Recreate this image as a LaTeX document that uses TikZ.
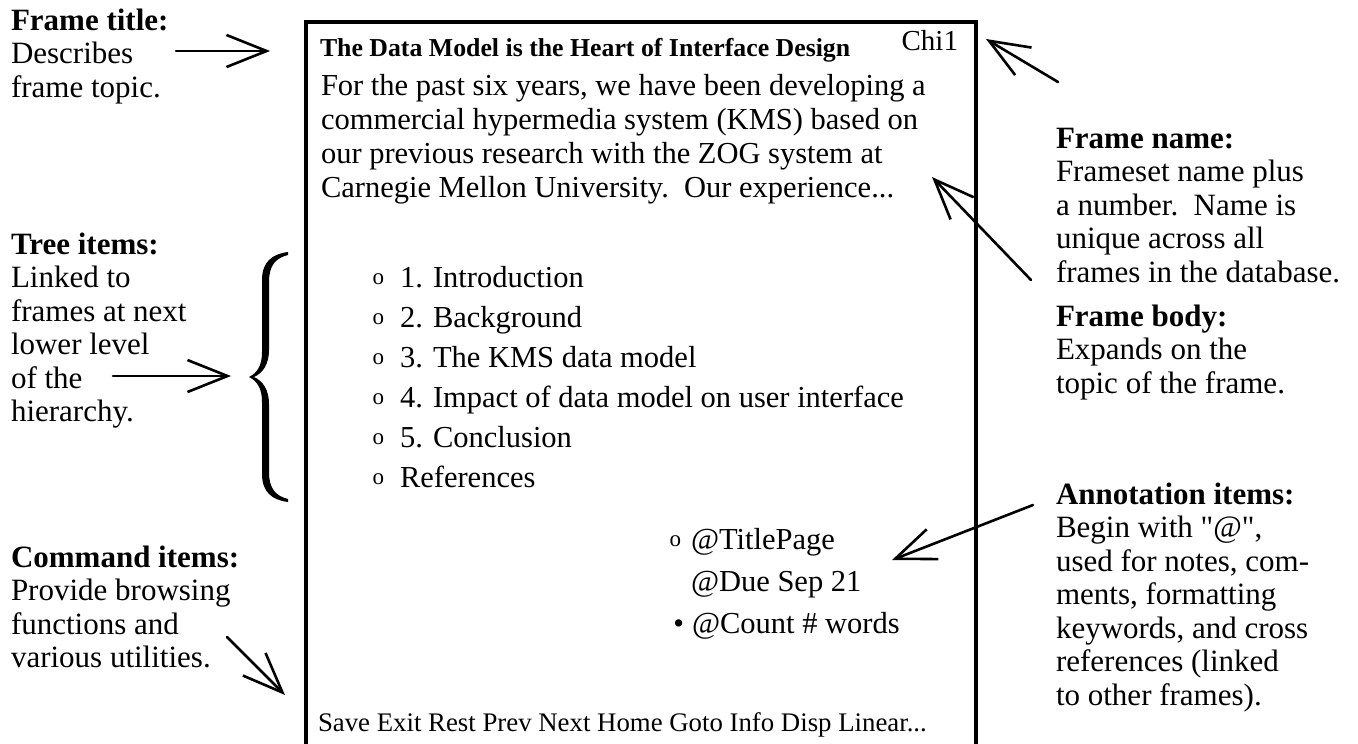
\documentclass[tikz,border=0pt]{standalone}
\usepackage{fontspec}
\setmainfont{Liberation Serif}
\newfontfamily\rawfont{Liberation Serif}[Ligatures=TeXOff]
\usetikzlibrary{arrows.meta}

% type sizes (1pt = 1 pixel of the finished picture)
\newcommand{\sidesz}{\fontsize{31}{33.5}\selectfont}
\newcommand{\bodysz}{\fontsize{30.5}{34}\selectfont}
\newcommand{\cmdsz}{\fontsize{26.8}{30}\selectfont}
\newcommand{\headsz}{\fontsize{25.8}{30}\selectfont\bfseries}
\newcommand{\namesz}{\fontsize{29}{30}\selectfont}
% stacked lines whose baseline is the first line
\newcommand{\lines}[1]{\begin{tabular}[t]{@{}l@{}}#1\end{tabular}}
% small hollow bullet used in front of linked items
\newcommand{\hollow}{\raisebox{3pt}{\fontsize{23}{23}\selectfont o}}
% straight double quote
\newcommand{\dq}{{\rawfont\symbol{34}}}

\begin{document}
\begin{tikzpicture}[x=1pt,y=-1pt,
  every node/.style={inner sep=0pt, outer sep=0pt},
  side/.style={anchor=base west, font=\sidesz},
  item/.style={anchor=base west, font=\bodysz},
  pointer/.style={line width=2.6pt, line cap=round,
    -{Straight Barb[length=40pt,width=32pt,line width=2.6pt]}}]

\useasboundingbox (0,0) rectangle (1358,744);

% the frame window, running off the bottom edge
\begin{scope}
  \clip (0,0) rectangle (1358,744);
  \draw[line width=4pt] (306,800) -- (306,22) -- (976,22) -- (976,800);
\end{scope}

% ---- contents of the frame ----
\node[anchor=base west, font=\headsz] (ftitle) at (320,56)
  {The Data Model is the Heart of Interface Design};
\node[anchor=base east, font=\namesz] (fname) at (958,50) {Chi1};
\node[item] (fbody) at (321,95) {\lines{%
  For the past six years, we have been developing a\\
  commercial hypermedia system (KMS) based on\\
  our previous research with the ZOG system at\\
  Carnegie Mellon University.\ \ Our experience...}};

\foreach \i/\y/\txt in {1/287/{1. Introduction},
                        2/327/{2. Background},
                        3/367/{3. The KMS data model},
                        4/407/{4. Impact of data model on user interface},
                        5/447/{5. Conclusion},
                        6/487/{References}}{
  \node[item] (tree\i) at (400,\y) {\txt};
  \node[anchor=base east] (tb\i) at (384,\y) {\hollow};
}

\node[item] (anno1) at (691,549) {@TitlePage};
\node[anchor=base east] (ab1) at (681,549) {\hollow};
\node[item] (anno2) at (691,591) {@Due Sep 21};
\node[item] (anno3) at (692,633) {@Count \# words};
\node[anchor=base east, font=\bodysz] (ab3) at (684,633) {•};

\node[anchor=base west, font=\cmdsz] (cmds) at (318,731)
  {Save Exit Rest Prev Next Home Goto Info Disp Linear...};

% ---- explanations round the frame ----
\node[side] (lbltitle) at (11,30)
  {\lines{\textbf{Frame title:}\\Describes\\frame topic.}};
\node[side] (lbltree) at (11,254)
  {\lines{\textbf{Tree items:}\\Linked to\\frames at next\\lower level\\of the\\hierarchy.}};
\node[side] (lblcmd) at (11,567)
  {\lines{\textbf{Command items:}\\Provide browsing\\functions and\\various utilities.}};
\node[side] (lblname) at (1056,148)
  {\lines{\textbf{Frame name:}\\Frameset name plus\\a number.\ \ Name is\\unique across all\\frames in the database.}};
\node[side] (lblbody) at (1056,326)
  {\lines{\textbf{Frame body:}\\Expands on the\\topic of the frame.}};
\node[side] (lblanno) at (1056,504)
  {\lines{\textbf{Annotation items:}\\Begin with \dq @\dq,\\used for notes, com-\\ments, formatting\\keywords, and cross\\references (linked\\to other frames).}};

% brace gathering the tree items
\fill (288,252) .. controls (272,254) and (262,262) .. (262,280)
  -- (262,352) .. controls (262,366) and (257,373) .. (249,377)
  .. controls (257,381) and (262,388) .. (262,402)
  -- (262,474) .. controls (262,492) and (272,500) .. (288,502)
  -- (288,499) .. controls (276,496) and (269,489) .. (269,472)
  -- (269,404) .. controls (269,390) and (263,381) .. (254,377)
  .. controls (263,373) and (269,364) .. (269,350)
  -- (269,282) .. controls (269,265) and (276,258) .. (288,255) -- cycle;

% pointer ends
\coordinate (ptitleA) at (176,51);  \coordinate (ptitleB) at (270,51);
\coordinate (ptreeA)  at (113,376); \coordinate (ptreeB)  at (231,376);
\coordinate (pcmdA)   at (227,637); \coordinate (pcmdB)   at (285,695);
\coordinate (pnameA)  at (1058,82); \coordinate (pnameB)  at (986,39);
\coordinate (pbodyA)  at (1031,280); \coordinate (pbodyB) at (932,177);
\coordinate (pannoA)  at (1033,505); \coordinate (pannoB) at (892,560);

\draw[pointer] (ptitleA) -- (ptitleB);
\draw[pointer] (ptreeA) -- (ptreeB);
\draw[pointer] (pcmdA) -- (pcmdB);
\draw[pointer] (pnameA) -- (pnameB);
\draw[pointer] (pbodyA) -- (pbodyB);
\draw[pointer] (pannoA) -- (pannoB);
\end{tikzpicture}
\end{document}
